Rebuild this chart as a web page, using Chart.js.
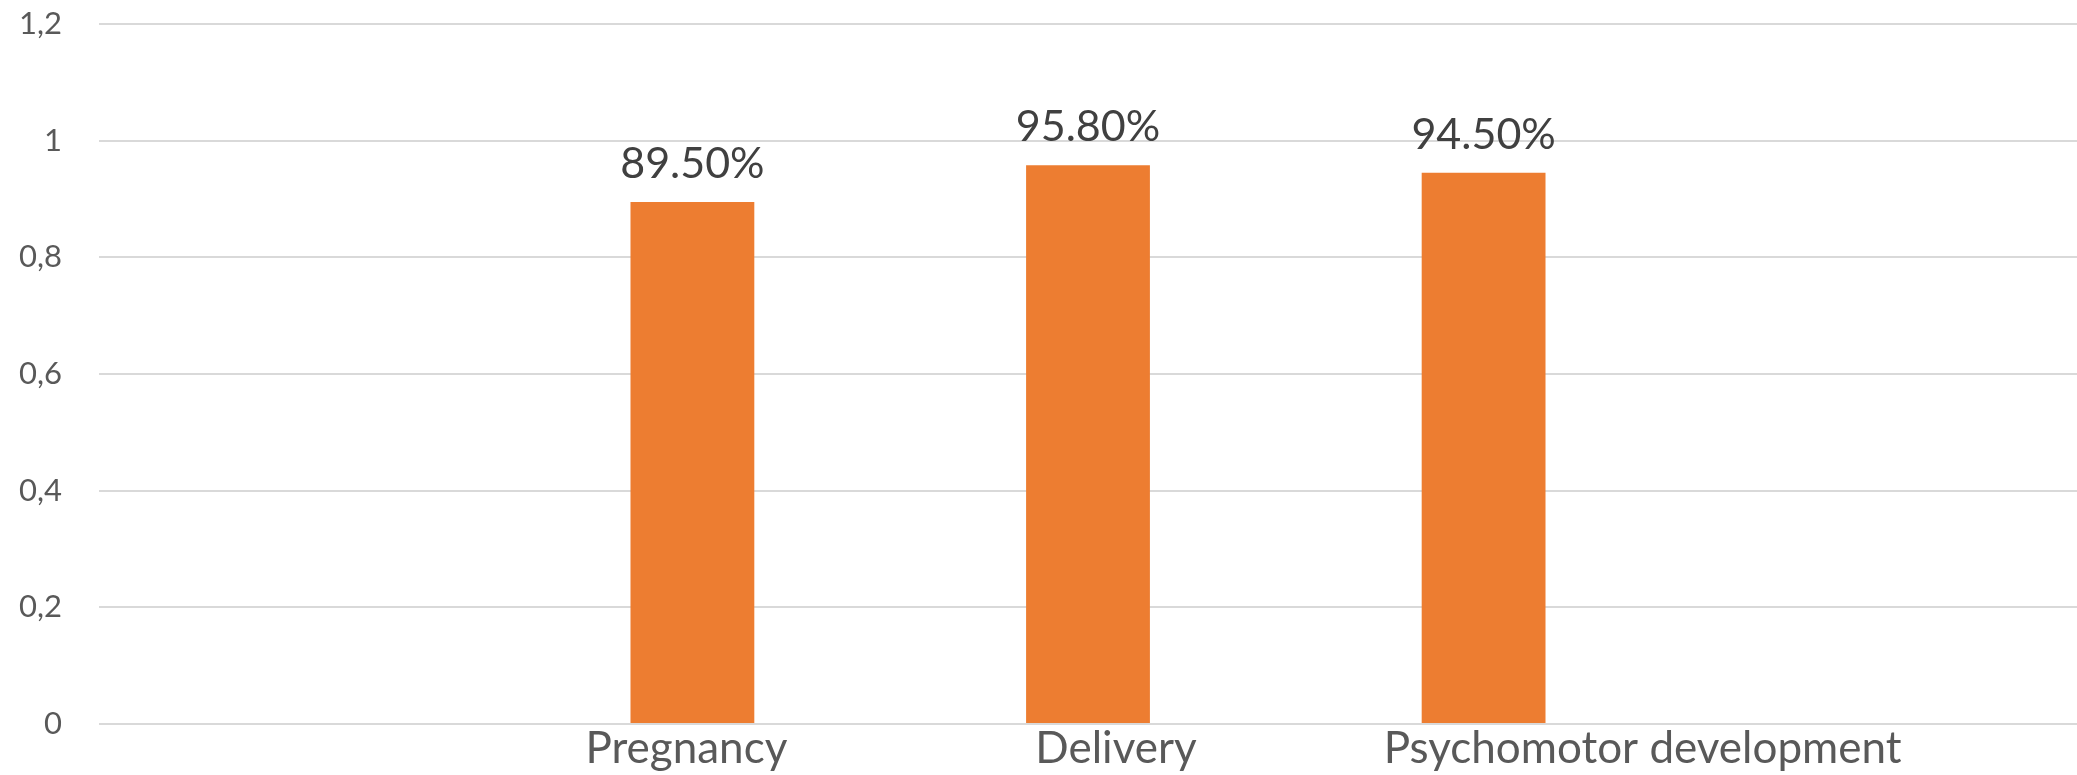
<!DOCTYPE html>
<html>
<head>
<meta charset="utf-8">
<script src="https://cdn.jsdelivr.net/npm/chart.js@4/dist/chart.umd.min.js"></script>
<style>
  html, body { margin: 0; padding: 0; background: #ffffff; }
  #wrap { width: 2077px; height: 775px; position: relative; }
</style>
</head>
<body>
<div id="wrap"><canvas id="chart"></canvas></div>
<script>
// Categories along the x axis (blank slots at both ends keep the bars centred)
const categories = ['', 'Pregnancy', 'Delivery', 'Psychomotor development', ''];
// Share of cases per category
const shares = [null, 0.895, 0.958, 0.945, null];
// Y axis ticks
const yTickValues = [0, 0.2, 0.4, 0.6, 0.8, 1, 1.2];

const FONT = 'Lato, Carlito, "Open Sans", sans-serif';

function percentText(v) {
  return (v * 100).toFixed(2) + '%';
}

function decimalComma(v) {
  return String(Math.round(v * 10) / 10).replace('.', ',');
}

// Draws the value above each bar and the category names under the axis
const barLabels = {
  id: 'barLabels',
  afterDatasetsDraw(chart, args, opts) {
    const { ctx, chartArea } = chart;
    const xScale = chart.scales.x;
    const meta = chart.getDatasetMeta(0);
    ctx.save();
    ctx.textAlign = 'center';
    ctx.textBaseline = 'alphabetic';

    ctx.font = opts.valueFont;
    ctx.fillStyle = opts.valueColor;
    meta.data.forEach((bar, i) => {
      const v = shares[i];
      if (v == null) return;
      ctx.fillText(percentText(v), bar.x, bar.y - opts.valueGap);
    });

    ctx.font = opts.categoryFont;
    ctx.fillStyle = opts.categoryColor;
    categories.forEach((name, i) => {
      if (!name) return;
      const x = xScale.getPixelForValue(i) + (opts.categoryShift[i] || 0);
      ctx.fillText(name, x, chartArea.bottom + opts.categoryBaseline);
    });
    ctx.restore();
  }
};

function build() {
  new Chart(document.getElementById('chart'), {
    type: 'bar',
    data: {
      labels: categories,
      datasets: [{
        data: shares,
        backgroundColor: '#ED7D31',
        borderWidth: 0,
        categoryPercentage: 1,
        barPercentage: 0.313
      }]
    },
    options: {
      responsive: true,
      maintainAspectRatio: false,
      animation: false,
      devicePixelRatio: 1,
      layout: { padding: { top: 24, left: 0, right: 0, bottom: 0 } },
      scales: {
        x: {
          grid: { display: false },
          border: { display: false },
          ticks: { display: false },
          afterFit(scale) { scale.height = 51; }
        },
        y: {
          min: 0,
          max: 1.2,
          afterBuildTicks(scale) {
            scale.ticks = yTickValues.map(v => ({ value: v }));
          },
          grid: { color: '#d9d9d9', lineWidth: 2, drawTicks: false },
          border: { display: false },
          ticks: {
            padding: 37,
            color: '#595959',
            font: { family: FONT, size: 31 },
            callback: (v) => decimalComma(v)
          },
          afterFit(scale) {
            scale.width = 99;
            // the label gap should not push the plot area inwards
            scale.paddingTop = 0;
            scale.paddingBottom = 0;
          }
        }
      },
      plugins: {
        legend: { display: false },
        tooltip: { enabled: false },
        barLabels: {
          valueFont: '43px ' + FONT,
          valueColor: '#404040',
          valueGap: 24,
          categoryFont: '44px ' + FONT,
          categoryColor: '#595959',
          categoryBaseline: 39,
          categoryShift: [0, -6, 28, 159, 0]
        }
      }
    },
    plugins: [barLabels]
  });
}

if (document.fonts && document.fonts.load) {
  Promise.all([document.fonts.load('43px Lato'), document.fonts.load('31px Lato')])
    .then(build, build);
} else {
  build();
}
</script>
</body>
</html>
